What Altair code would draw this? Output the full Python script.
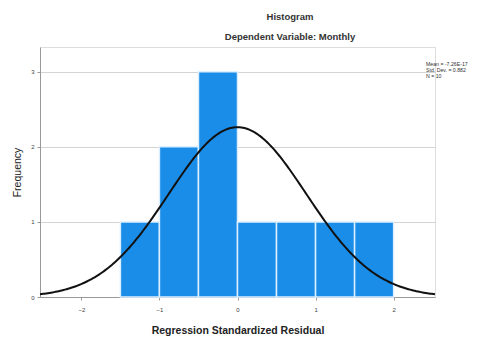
import altair as alt
import pandas as pd

# Histogram bins of the standardized residuals
bin_start = [-1.5, -1.0, -0.5, 0.0, 0.5, 1.0, 1.5]
bin_end = [-1.0, -0.5, 0.0, 0.5, 1.0, 1.5, 2.0]
counts = [1, 2, 3, 1, 1, 1, 1]

# Summary statistics shown beside the plot
mean = -7.26e-17
std_dev = 0.882
n_obs = 10
bin_width = 0.5
stats_lines = ["Mean = -7.26E-17", "Std. Dev. = 0.882", "N = 10"]

x_ticks = [-2, -1, 0, 1, 2]
y_ticks = [0, 1, 2, 3]
x_domain = [-2.53, 2.53]
y_domain = [0, 3.33]

bars_df = pd.DataFrame({"start": bin_start, "end": bin_end, "count": counts})

xs = alt.Scale(domain=x_domain, nice=False, zero=False)
ys = alt.Scale(domain=y_domain, nice=False)

x_axis = alt.Axis(values=x_ticks, grid=False, format="d", title="Regression Standardized Residual",
                  titleFontSize=10.5, titleFontWeight="bold", titleColor="#222",
                  titlePadding=13, labelFontSize=6, labelColor="#444", labelPadding=6,
                  domainColor="#999", tickColor="#999", tickSize=3)
y_axis = alt.Axis(values=y_ticks, grid=True, format="d", gridColor="#d4d4d4", title="Frequency",
                  titleFontSize=10.5, titleFontWeight="normal", titleColor="#222",
                  titlePadding=8, labelFontSize=6, labelColor="#444", labelPadding=3,
                  domainColor="#999", tickColor="#999", tickSize=3)

bars = alt.Chart(bars_df).mark_bar(color="#1a8de8", stroke="#dcefff", strokeWidth=1.5).encode(
    x=alt.X("start:Q", scale=xs, axis=x_axis),
    x2="end:Q",
    y=alt.Y("count:Q", scale=ys, axis=y_axis),
    y2=alt.datum(0),
)

# Fitted normal curve, scaled to frequency per bin
curve = alt.Chart(alt.sequence(-2.53, 2.531, 0.02, as_="x")).transform_calculate(
    y=f"{n_obs * bin_width} * exp(-0.5 * pow((datum.x - ({mean})) / {std_dev}, 2)) / ({std_dev} * sqrt(2 * PI))"
).mark_line(color="#111", strokeWidth=2).encode(
    x=alt.X("x:Q", scale=xs),
    y=alt.Y("y:Q", scale=ys),
)

titles = alt.Chart(pd.DataFrame({"t": ["Histogram", "Dependent Variable: Monthly"],
                                 "yy": [-30, -10]})).mark_text(
    fontSize=9.5, fontWeight="bold", color="#333", font="Arial"
).encode(text="t:N", x=alt.value(250), y=alt.Y("yy:Q", scale=None))

stats = alt.Chart(pd.DataFrame({"t": stats_lines, "yy": [17, 23, 29]})).mark_text(
    fontSize=5.2, color="#333", align="left", font="Arial"
).encode(text="t:N", x=alt.value(386), y=alt.Y("yy:Q", scale=None))

chart = alt.layer(bars, curve, titles, stats).properties(
    width=395, height=250,
    autosize=alt.AutoSizeParams(type="none"),
    padding={"left": 40, "top": 47, "right": 62, "bottom": 41},
).configure_view(stroke=None).configure(font="Arial", background="white")

chart.save("out.html", embed_options={"renderer": "svg", "actions": False})
